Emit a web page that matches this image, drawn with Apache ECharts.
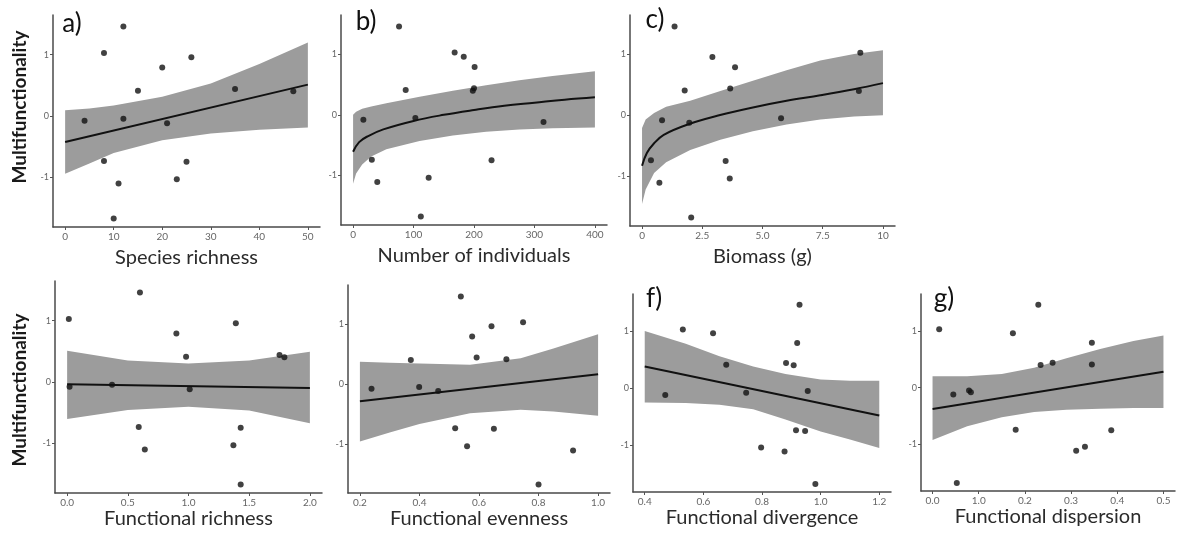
<!DOCTYPE html>
<html>
<head>
<meta charset="utf-8">
<script src="https://cdn.jsdelivr.net/npm/echarts@6/dist/echarts.min.js"></script>
<style>
html,body{margin:0;padding:0;background:#fff;}
#c{width:1180px;height:540px;}
</style>
</head>
<body>
<div id="c"></div>
<script>
// Multifunctionality of each of 15 sites (shared y values)
const multifunctionality = [1.46, 1.03, 0.96, 0.79, 0.44, 0.41, 0.40, -0.05, -0.08, -0.12, -0.74, -0.75, -1.04, -1.11, -1.68];

// Predictor values per site
const speciesRichness   = [12, 8, 26, 20, 35, 15, 47, 12, 4, 21, 8, 25, 23, 11, 10];
const nIndividuals      = [76, 168, 183, 201, 200, 87, 198, 103, 17, 315, 31, 229, 125, 40, 112];
const biomass           = [1.35, 9.06, 2.92, 3.86, 3.66, 1.77, 9.0, 5.77, 0.83, 1.96, 0.37, 3.47, 3.64, 0.72, 2.04];
const funcRichness      = [0.60, 0.014, 1.39, 0.90, 1.75, 0.98, 1.79, 0.37, 0.02, 1.01, 0.59, 1.43, 1.37, 0.64, 1.43];
const funcEvenness      = [0.539, 0.748, 0.642, 0.577, 0.592, 0.692, 0.371, 0.399, 0.239, 0.463, 0.52, 0.65, 0.56, 0.916, 0.80];
const funcDivergence    = [0.928, 0.530, 0.633, 0.92, 0.882, 0.678, 0.908, 0.956, 0.746, 0.470, 0.916, 0.947, 0.797, 0.877, 0.982];
const funcDispersion    = [0.229, 0.0144, 0.174, 0.345, 0.260, 0.345, 0.234, 0.079, 0.083, 0.045, 0.180, 0.387, 0.330, 0.311, 0.0525];

// Fitted lines (x, y)
const fitA = [[0, -0.43], [50, 0.51]];
const fitB = [[0, -0.61], [10, -0.45], [25, -0.35], [50, -0.24], [100, -0.10], [150, 0.0], [200, 0.08], [250, 0.15], [300, 0.20], [350, 0.25], [400, 0.29]];
const fitC = [[0, -0.83], [0.2, -0.62], [0.5, -0.46], [0.9, -0.32], [1.9, -0.15], [3.2, 0.0], [4.6, 0.13], [6, 0.24], [7.4, 0.33], [8.8, 0.43], [10, 0.53]];
const fitD = [[0, -0.04], [2, -0.10]];
const fitE = [[0.2, -0.29], [1.0, 0.16]];
const fitF = [[0.4, 0.38], [1.2, -0.48]];
const fitG = [[0, -0.375], [0.5, 0.28]];

// Confidence ribbons: x, lower, upper
const ribA_x = [0, 5, 10, 20, 30, 40, 50];
const ribA_lo = [-0.95, -0.78, -0.61, -0.40, -0.29, -0.23, -0.19];
const ribA_hi = [0.09, 0.12, 0.17, 0.31, 0.53, 0.85, 1.20];
const ribB_x = [0, 5, 15, 30, 55, 110, 165, 220, 275, 330, 400];
const ribB_lo = [-1.14, -0.97, -0.82, -0.69, -0.57, -0.43, -0.34, -0.28, -0.24, -0.22, -0.21];
const ribB_hi = [0.0, 0.05, 0.10, 0.14, 0.19, 0.30, 0.40, 0.49, 0.57, 0.64, 0.72];
const ribC_x = [0, 0.15, 0.5, 1, 2, 3.25, 4.6, 6, 7.4, 8.8, 10];
const ribC_lo = [-1.46, -1.22, -0.95, -0.77, -0.57, -0.40, -0.26, -0.15, -0.07, -0.02, 0.0];
const ribC_hi = [-0.21, -0.07, 0.04, 0.14, 0.24, 0.40, 0.57, 0.74, 0.90, 1.01, 1.07];
const ribD_x = [0, 0.5, 1, 1.5, 2];
const ribD_lo = [-0.61, -0.46, -0.41, -0.47, -0.68];
const ribD_hi = [0.51, 0.35, 0.30, 0.35, 0.49];
const ribE_x = [0.2, 0.3, 0.4, 0.57, 0.74, 0.85, 1.0];
const ribE_lo = [-0.96, -0.81, -0.67, -0.49, -0.43, -0.46, -0.53];
const ribE_hi = [0.37, 0.355, 0.34, 0.32, 0.43, 0.59, 0.83];
const ribF_x = [0.4, 0.54, 0.655, 0.77, 0.88, 1.0, 1.1, 1.2];
const ribF_lo = [-0.25, -0.26, -0.29, -0.37, -0.55, -0.76, -0.90, -1.05];
const ribF_hi = [1.0, 0.78, 0.56, 0.38, 0.25, 0.15, 0.13, 0.13];
const ribG_x = [0, 0.075, 0.15, 0.22, 0.29, 0.363, 0.435, 0.5];
const ribG_lo = [-0.92, -0.68, -0.52, -0.43, -0.39, -0.37, -0.36, -0.36];
const ribG_hi = [0.2, 0.2, 0.24, 0.35, 0.52, 0.68, 0.82, 0.92];

// Tick values / labels
const yTicks = [-1, 0, 1];
const yTickLabels = ['-1', '0', '1'];
const xTicksA = [0, 10, 20, 30, 40, 50];
const xLabelsA = ['0', '10', '20', '30', '40', '50'];
const xTicksB = [0, 100, 200, 300, 400];
const xLabelsB = ['0', '100', '200', '300', '400'];
const xTicksC = [0, 2.5, 5, 7.5, 10];
const xLabelsC = ['0', '2.5', '5.0', '7.5', '10'];
const xTicksD = [0, 0.5, 1, 1.5, 2];
const xLabelsD = ['0.0', '0.5', '1.0', '1.5', '2.0'];
const xTicksE = [0.2, 0.4, 0.6, 0.8, 1.0];
const xLabelsE = ['0.2', '0.4', '0.6', '0.8', '1.0'];
const xTicksF = [0.4, 0.6, 0.8, 1.0, 1.2];
const xLabelsF = ['0.4', '0.6', '0.8', '1.0', '1.2'];
const xTicksG = [0, 0.1, 0.2, 0.3, 0.4, 0.5];
const xLabelsG = ['0.0', '1.0', '0.2', '0.3', '0.4', '0.5'];

const xTitles = ['Species richness', 'Number of individuals', 'Biomass (g)', 'Functional richness', 'Functional evenness', 'Functional divergence', 'Functional dispersion'];
const panelLabels = ['a)', 'b)', 'c)', '', '', 'f)', 'g)'];
const yTitle = 'Multifunctionality';

const FONT = 'Lato, "Open Sans", sans-serif';

const panels = [
  {grid: {left: 53, top: 15, width: 267, height: 212}, xmin: -2.5, xmax: 52.5, ticks: xTicksA, labels: xLabelsA, xs: speciesRichness, fit: fitA, rx: ribA_x, rlo: ribA_lo, rhi: ribA_hi, lab: [72, 24], smooth: false},
  {grid: {left: 341, top: 15, width: 266, height: 210}, xmin: -20, xmax: 420, ticks: xTicksB, labels: xLabelsB, xs: nIndividuals, fit: fitB, rx: ribB_x, rlo: ribB_lo, rhi: ribB_hi, lab: [366, 22], smooth: 0.4},
  {grid: {left: 630, top: 15, width: 265, height: 211}, xmin: -0.5, xmax: 10.5, ticks: xTicksC, labels: xLabelsC, xs: biomass, fit: fitC, rx: ribC_x, rlo: ribC_lo, rhi: ribC_hi, lab: [655, 20], smooth: 0.4},
  {grid: {left: 55, top: 281, width: 267, height: 212}, xmin: -0.1, xmax: 2.1, ticks: xTicksD, labels: xLabelsD, xs: funcRichness, fit: fitD, rx: ribD_x, rlo: ribD_lo, rhi: ribD_hi, lab: [0, 0], smooth: false},
  {grid: {left: 348, top: 285, width: 262, height: 208}, xmin: 0.16, xmax: 1.04, ticks: xTicksE, labels: xLabelsE, xs: funcEvenness, fit: fitE, rx: ribE_x, rlo: ribE_lo, rhi: ribE_hi, lab: [0, 0], smooth: false},
  {grid: {left: 633, top: 294, width: 258, height: 198}, xmin: 0.36, xmax: 1.24, ticks: xTicksF, labels: xLabelsF, xs: funcDivergence, fit: fitF, rx: ribF_x, rlo: ribF_lo, rhi: ribF_hi, lab: [654, 299], smooth: false},
  {grid: {left: 921, top: 294, width: 254, height: 197}, xmin: -0.025, xmax: 0.525, ticks: xTicksG, labels: xLabelsG, xs: funcDispersion, fit: fitG, rx: ribG_x, rlo: ribG_lo, rhi: ribG_hi, lab: [944, 299], smooth: false}
];

const grids = [], xAxes = [], yAxes = [], series = [], graphics = [];
const axisCol = '#4a4a4a';

panels.forEach((p, i) => {
  grids.push(Object.assign({containLabel: false}, p.grid));
  xAxes.push({
    type: 'value', gridIndex: i, min: p.xmin, max: p.xmax,
    name: xTitles[i], nameLocation: 'middle', nameGap: i < 3 ? 21 : 15,
    nameTextStyle: {fontFamily: FONT, fontSize: 20, color: '#2b2b2b'},
    axisLine: {show: true, onZero: false, lineStyle: {color: axisCol, width: 1.5}},
    axisTick: {show: true, length: 3, customValues: p.ticks, lineStyle: {color: '#555'}},
    axisLabel: {customValues: p.ticks, fontFamily: FONT, fontSize: 10, color: '#666', margin: 5,
      formatter: (v) => { let k = 0, d = Infinity; p.ticks.forEach((t, j) => { if (Math.abs(t - v) < d) { d = Math.abs(t - v); k = j; } }); return p.labels[k]; }},
    splitLine: {show: false}
  });
  yAxes.push({
    type: 'value', gridIndex: i, min: -1.82, max: 1.65,
    axisLine: {show: true, onZero: false, lineStyle: {color: axisCol, width: 1.5}},
    axisTick: {show: true, length: 3, customValues: yTicks, lineStyle: {color: '#555'}},
    axisLabel: {customValues: yTicks, fontFamily: FONT, fontSize: 9, color: '#666', margin: 4,
      formatter: (v) => yTickLabels[yTicks.indexOf(Math.round(v))]},
    splitLine: {show: false}
  });
  // ribbon polygon
  series.push({
    type: 'custom', xAxisIndex: i, yAxisIndex: i, silent: true, z: 1,
    data: [[p.rx[0], p.rlo[0]]],
    renderItem: function (params, api) {
      const pts = [];
      for (let j = 0; j < p.rx.length; j++) pts.push(api.coord([p.rx[j], p.rhi[j]]));
      for (let j = p.rx.length - 1; j >= 0; j--) pts.push(api.coord([p.rx[j], p.rlo[j]]));
      return {type: 'polygon', shape: {points: pts}, style: {fill: '#9c9c9c', stroke: null}};
    }
  });
  // fitted line
  series.push({
    type: 'line', xAxisIndex: i, yAxisIndex: i, data: p.fit, showSymbol: false, smooth: p.smooth, z: 3,
    lineStyle: {color: '#111', width: 2}, silent: true
  });
  // points
  series.push({
    type: 'scatter', xAxisIndex: i, yAxisIndex: i, z: 4,
    data: p.xs.map((x, j) => [x, multifunctionality[j]]),
    symbolSize: 6, itemStyle: {color: '#111'}, silent: true
  });
  if (panelLabels[i]) {
    graphics.push({type: 'text', x: p.lab[0], y: p.lab[1], z: 10,
      style: {text: panelLabels[i], fontFamily: FONT, fontSize: 26, fill: '#111', align: 'center', verticalAlign: 'middle'}});
  }
});

graphics.push({type: 'text', x: 20, y: 107, rotation: Math.PI / 2,
  style: {text: yTitle, fontFamily: FONT, fontSize: 19, fontWeight: 'bold', fill: '#1a1a1a', align: 'center', verticalAlign: 'middle'}});
graphics.push({type: 'text', x: 20, y: 390, rotation: Math.PI / 2,
  style: {text: yTitle, fontFamily: FONT, fontSize: 19, fontWeight: 'bold', fill: '#1a1a1a', align: 'center', verticalAlign: 'middle'}});

const chart = echarts.init(document.getElementById('c'), null, {renderer: 'canvas'});
chart.setOption({
  backgroundColor: '#ffffff',
  animation: false,
  grid: grids, xAxis: xAxes, yAxis: yAxes, series: series, graphic: graphics
});
</script>
</body>
</html>
